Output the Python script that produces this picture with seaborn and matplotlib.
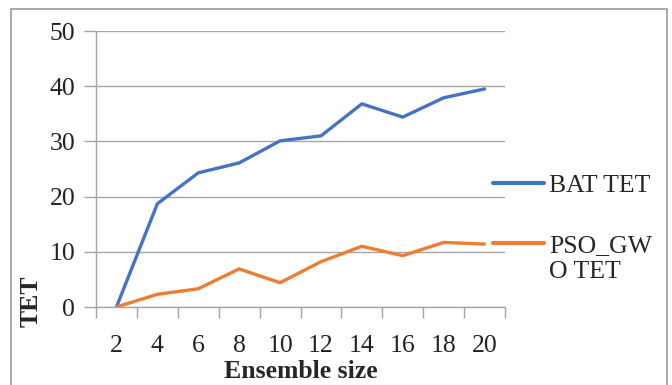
import matplotlib
matplotlib.use("Agg")
import matplotlib.pyplot as plt
from matplotlib.patches import Rectangle
import seaborn as sns
import pandas as pd

# Ensemble sizes and total execution time for each optimiser
ensemble_sizes = ["2", "4", "6", "8", "10", "12", "14", "16", "18", "20"]
bat_tet = [0.0, 18.7, 24.3, 26.1, 30.1, 31.0, 36.8, 34.4, 37.9, 39.5]
pso_gwo_tet = [0.0, 2.3, 3.3, 6.9, 4.4, 8.2, 11.0, 9.3, 11.7, 11.4]
series_names = ["BAT TET", "PSO_GW\nO TET"]
y_ticks = [0, 10, 20, 30, 40, 50]

sns.set_theme(style="white")
plt.rcParams["font.family"] = ["Liberation Serif", "DejaVu Serif"]

df = pd.DataFrame({
    "pos": list(range(len(ensemble_sizes))) * 2,
    "TET": bat_tet + pso_gwo_tet,
    "series": [series_names[0]] * len(bat_tet) + [series_names[1]] * len(pso_gwo_tet),
})

fig = plt.figure(figsize=(6.72, 3.85), dpi=100)
ax = fig.add_axes([96 / 672, 1 - 307 / 385, (505 - 96) / 672, (307 - 31) / 385])

sns.lineplot(data=df, x="pos", y="TET", hue="series",
             palette=["#4472C4", "#ED7D31"], linewidth=2.4, ax=ax,
             legend=True)

grid_c = "#A6A6A6"
fs = 18.5
ax.set_xlim(-0.5, len(ensemble_sizes) - 0.5)
ax.set_ylim(0, 50)
ax.set_yticks(y_ticks)
ax.set_xticks(range(len(ensemble_sizes)))
ax.set_xticklabels(ensemble_sizes)
ax.set_xticks([i - 0.5 for i in range(len(ensemble_sizes) + 1)], minor=True)
ax.yaxis.grid(True, color=grid_c, linewidth=1)
ax.set_axisbelow(True)
for s in ["top", "right"]:
    ax.spines[s].set_visible(False)
for s in ["left", "bottom"]:
    ax.spines[s].set_color(grid_c)
    ax.spines[s].set_linewidth(1)
ax.tick_params(axis="y", which="major", left=True, length=9, width=1,
               color=grid_c, labelsize=fs, pad=6, labelcolor="#222222")
ax.tick_params(axis="x", which="major", bottom=False, labelsize=fs,
               pad=14, labelcolor="#222222")
ax.tick_params(axis="x", which="minor", bottom=True, length=8, width=1,
               color=grid_c)

ax.set_xlabel("Ensemble size", fontsize=fs, fontweight="bold", labelpad=2)
ax.set_ylabel("TET", fontsize=fs, fontweight="bold", labelpad=8)
ax.yaxis.set_label_coords(-0.13, 0.02)

leg = ax.legend(loc="upper left", bbox_to_anchor=(480 / 672, 1 - 161 / 385),
                bbox_transform=fig.transFigure, frameon=False,
                fontsize=fs, handlelength=2.0, handletextpad=0.2,
                labelspacing=1.5, borderpad=0, title=None)
handles = leg.get_lines()
for line in handles:
    line.set_linewidth(3)
# keep the wrapped label's handle level with its first text line
half_line = fs * 1.2 / 2
handles[1].set_ydata([y + half_line for y in handles[1].get_ydata()])

fig.add_artist(Rectangle((11 / 672, -0.02), (667 - 11) / 672, 1 - 9 / 385 + 0.02,
                         transform=fig.transFigure, fill=False,
                         edgecolor="#9A9A9A", linewidth=1.2))

fig.savefig("out.png", dpi=100)
